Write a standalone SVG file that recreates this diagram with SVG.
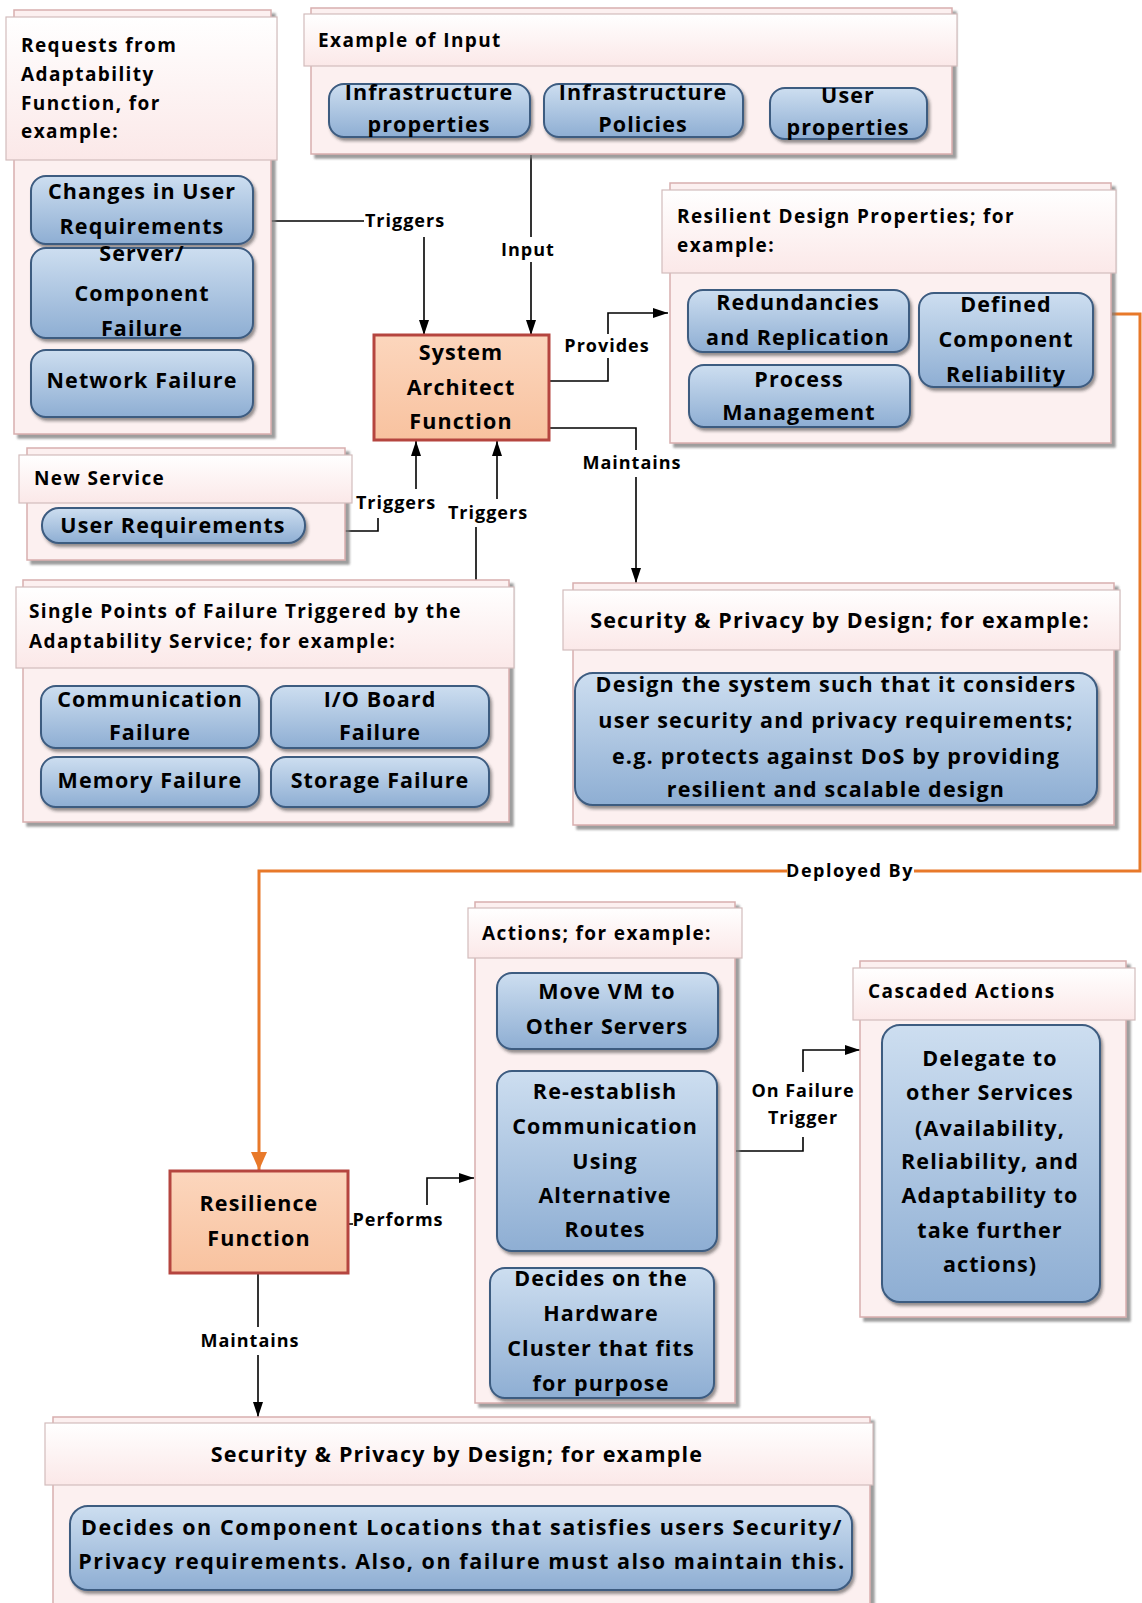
<svg xmlns="http://www.w3.org/2000/svg" width="1142" height="1603" viewBox="0 0 1142 1603">
<defs>
  <linearGradient id="gPill" x1="0" y1="0" x2="0" y2="1">
    <stop offset="0" stop-color="#cddef0"/>
    <stop offset="1" stop-color="#8eaed3"/>
  </linearGradient>
  <linearGradient id="gHead" x1="0" y1="0" x2="0" y2="1">
    <stop offset="0" stop-color="#ffffff"/>
    <stop offset="1" stop-color="#fbe8e8"/>
  </linearGradient>
  <linearGradient id="gFunc" x1="0" y1="0" x2="0" y2="1">
    <stop offset="0" stop-color="#fcd6bd"/>
    <stop offset="1" stop-color="#f8c29f"/>
  </linearGradient>
  <filter id="fPill" x="-10%" y="-10%" width="125%" height="140%">
    <feDropShadow dx="2" dy="3" stdDeviation="1.5" flood-color="#2a2a2a" flood-opacity="0.5"/>
  </filter>
  <filter id="fBox" x="-5%" y="-5%" width="115%" height="115%">
    <feDropShadow dx="4" dy="4" stdDeviation="1.2" flood-color="#7d7d7d" flood-opacity="0.75"/>
  </filter>
  <marker id="arr" viewBox="0 0 15 10" refX="15" refY="5" markerWidth="15" markerHeight="10" markerUnits="userSpaceOnUse" orient="auto">
    <path d="M0,0 L15,5 L0,10 z" fill="#000"/>
  </marker>
  <marker id="arrO" viewBox="0 0 18 16" refX="18" refY="8" markerWidth="18" markerHeight="16" markerUnits="userSpaceOnUse" orient="auto">
    <path d="M0,0 L18,8 L0,16 z" fill="#e8792a"/>
  </marker>
</defs>
<style>
  text { font-family: "Open Sans", "Liberation Sans", sans-serif; font-weight: 700; fill: #000; }
  .hd { font-size: 19px; letter-spacing: 1.4px; }
  .ttl { font-size: 21.5px; text-anchor: middle; letter-spacing: 1.2px; }
  .pt { font-size: 21.5px; text-anchor: middle; letter-spacing: 1.1px; }
  .lb { font-size: 18px; text-anchor: middle; letter-spacing: 1px; }
  .body { fill: #fcf0f0; stroke: #d8aeae; stroke-width: 1.5; filter: url(#fBox); }
  .head { fill: url(#gHead); stroke: #d3bcbc; stroke-width: 1.2; }
  .pill { fill: url(#gPill); stroke: #3c5b80; stroke-width: 2; filter: url(#fPill); }
  .func { fill: url(#gFunc); stroke: #b5453f; stroke-width: 3; }
  .ln { fill: none; stroke: #000; stroke-width: 1.6; }
  .arw { marker-end: url(#arr); }
  .or { fill: none; stroke: #e8792a; stroke-width: 3; }
</style>

<rect width="1142" height="1603" fill="#fff"/>

<!-- connectors -->
<g id="connectors">
  <!-- Triggers from adaptability requests -->
  <line class="ln" x1="271" y1="221" x2="364" y2="221"/>
  <line class="ln arw" x1="424" y1="237" x2="424" y2="335"/>
  <text class="lb" x="405" y="227">Triggers</text>
  <!-- Input -->
  <line class="ln" x1="531" y1="155" x2="531" y2="237"/>
  <line class="ln arw" x1="531" y1="262" x2="531" y2="335"/>
  <text class="lb" x="528" y="256">Input</text>
  <!-- Provides -->
  <path class="ln" d="M549,381 H608 V358"/>
  <path class="ln arw" d="M608,334 V313 H668"/>
  <text class="lb" x="607" y="352">Provides</text>
  <!-- Maintains (design) -->
  <path class="ln" d="M549,428 H636 V450"/>
  <line class="ln arw" x1="636" y1="477" x2="636" y2="583"/>
  <text class="lb" x="632" y="469">Maintains</text>
  <!-- Triggers from new service -->
  <path class="ln" d="M345,531 H378 V518"/>
  <line class="ln arw" x1="416" y1="489" x2="416" y2="441"/>
  <text class="lb" x="396" y="509">Triggers</text>
  <!-- Triggers from single points of failure -->
  <line class="ln" x1="476" y1="581" x2="476" y2="527"/>
  <line class="ln arw" x1="497" y1="499" x2="497" y2="441"/>
  <text class="lb" x="488" y="519">Triggers</text>
  <!-- Deployed By (orange) -->
  <path class="or" d="M1112,314 H1140 V871 H914"/>
  <path class="or" d="M787,871 H259 V1170" marker-end="url(#arrO)"/>
  <text class="lb" x="850" y="877" style="letter-spacing:1.5px">Deployed By</text>
  <!-- Performs -->
  <line class="ln" x1="348" y1="1224" x2="353" y2="1224"/>
  <path class="ln arw" d="M427,1205 V1178 H474"/>
  <text class="lb" x="398" y="1226">Performs</text>
  <!-- On Failure Trigger -->
  <path class="ln" d="M736,1151 H803 V1137"/>
  <path class="ln arw" d="M803,1072 V1050 H860"/>
  <text class="lb" x="803" y="1097">On Failure</text>
  <text class="lb" x="803" y="1124">Trigger</text>
  <!-- Maintains (resilience) -->
  <line class="ln" x1="258" y1="1273" x2="258" y2="1327"/>
  <line class="ln arw" x1="258" y1="1355" x2="258" y2="1417"/>
  <text class="lb" x="250" y="1347">Maintains</text>
</g>

<!-- Requests from Adaptability Function -->
<g id="requests">
  <rect class="body" x="14" y="10" width="257" height="424"/>
  <rect class="head" x="6" y="17" width="271" height="143"/>
  <text class="hd"><tspan x="21" y="52">Requests from</tspan><tspan x="21" y="81">Adaptability</tspan><tspan x="21" y="110">Function, for</tspan><tspan x="21" y="138">example:</tspan></text>
  <rect class="pill" x="31" y="176" width="222" height="68" rx="15"/>
  <text class="pt"><tspan x="142" y="199">Changes in User</tspan><tspan x="142" y="234">Requirements</tspan></text>
  <rect class="pill" x="31" y="248" width="222" height="90" rx="15"/>
  <text class="pt"><tspan x="142" y="261">Server/</tspan><tspan x="142" y="301">Component</tspan><tspan x="142" y="336">Failure</tspan></text>
  <rect class="pill" x="31" y="350" width="222" height="67" rx="15"/>
  <text class="pt" x="142" y="388">Network Failure</text>
</g>

<!-- Example of Input -->
<g id="input">
  <rect class="body" x="311" y="8" width="641" height="146"/>
  <rect class="head" x="304" y="14" width="653" height="52"/>
  <text class="hd" x="318" y="47">Example of Input</text>
  <rect class="pill" x="329" y="84" width="201" height="53" rx="15"/>
  <text class="pt"><tspan x="429" y="100">Infrastructure</tspan><tspan x="429" y="132">properties</tspan></text>
  <rect class="pill" x="544" y="84" width="199" height="53" rx="15"/>
  <text class="pt"><tspan x="643" y="100">Infrastructure</tspan><tspan x="643" y="132">Policies</tspan></text>
  <rect class="pill" x="770" y="88" width="157" height="51" rx="15"/>
  <text class="pt"><tspan x="848" y="103">User</tspan><tspan x="848" y="135">properties</tspan></text>
</g>

<!-- System Architect Function -->
<g id="system-architect">
  <rect class="func" x="374" y="335" width="175" height="105"/>
  <text class="pt"><tspan x="461" y="360">System</tspan><tspan x="461" y="395">Architect</tspan><tspan x="461" y="429">Function</tspan></text>
</g>

<!-- Resilient Design Properties -->
<g id="resilient-design">
  <rect class="body" x="670" y="183" width="441" height="260"/>
  <rect class="head" x="662" y="190" width="454" height="83"/>
  <text class="hd"><tspan x="677" y="223">Resilient Design Properties; for</tspan><tspan x="677" y="252">example:</tspan></text>
  <rect class="pill" x="688" y="290" width="221" height="62" rx="15"/>
  <text class="pt"><tspan x="798" y="310">Redundancies</tspan><tspan x="798" y="345">and Replication</tspan></text>
  <rect class="pill" x="689" y="365" width="221" height="62" rx="15"/>
  <text class="pt"><tspan x="799" y="387">Process</tspan><tspan x="799" y="420">Management</tspan></text>
  <rect class="pill" x="919" y="293" width="174" height="94" rx="15"/>
  <text class="pt"><tspan x="1006" y="312">Defined</tspan><tspan x="1006" y="347">Component</tspan><tspan x="1006" y="382">Reliability</tspan></text>
</g>

<!-- New Service -->
<g id="new-service">
  <rect class="body" x="27" y="448" width="318" height="112"/>
  <rect class="head" x="19" y="455" width="333" height="48"/>
  <text class="hd" x="34" y="485">New Service</text>
  <rect class="pill" x="42" y="508" width="263" height="35" rx="17"/>
  <text class="pt" x="173" y="533">User Requirements</text>
</g>

<!-- Single Points of Failure -->
<g id="single-points">
  <rect class="body" x="23" y="580" width="486" height="242"/>
  <rect class="head" x="16" y="587" width="498" height="81"/>
  <text class="hd"><tspan x="29" y="618">Single Points of Failure Triggered by the</tspan><tspan x="29" y="648">Adaptability Service; for example:</tspan></text>
  <rect class="pill" x="41" y="686" width="218" height="62" rx="15"/>
  <text class="pt"><tspan x="150" y="707">Communication</tspan><tspan x="150" y="740">Failure</tspan></text>
  <rect class="pill" x="271" y="686" width="218" height="62" rx="15"/>
  <text class="pt"><tspan x="380" y="707">I/O Board</tspan><tspan x="380" y="740">Failure</tspan></text>
  <rect class="pill" x="41" y="757" width="218" height="50" rx="15"/>
  <text class="pt" x="150" y="788">Memory Failure</text>
  <rect class="pill" x="271" y="757" width="218" height="50" rx="15"/>
  <text class="pt" x="380" y="788">Storage Failure</text>
</g>

<!-- Security & Privacy by Design (system architect) -->
<g id="security-design">
  <rect class="body" x="573" y="583" width="541" height="242"/>
  <rect class="head" x="563" y="590" width="557" height="60"/>
  <text class="ttl" x="840" y="628">Security &amp; Privacy by Design; for example:</text>
  <rect class="pill" x="575" y="673" width="522" height="132" rx="18"/>
  <text class="pt" style="letter-spacing:1.2px"><tspan x="836" y="692">Design the system such that it considers</tspan><tspan x="836" y="728">user security and privacy requirements;</tspan><tspan x="836" y="764">e.g. protects against DoS by providing</tspan><tspan x="836" y="797">resilient and scalable design</tspan></text>
</g>

<!-- Resilience Function -->
<g id="resilience">
  <rect class="func" x="170" y="1171" width="178" height="102"/>
  <text class="pt"><tspan x="259" y="1211">Resilience</tspan><tspan x="259" y="1246">Function</tspan></text>
</g>

<!-- Actions -->
<g id="actions">
  <rect class="body" x="475" y="902" width="260" height="501"/>
  <rect class="head" x="468" y="908" width="274" height="50"/>
  <text class="hd" x="482" y="940">Actions; for example:</text>
  <rect class="pill" x="497" y="973" width="221" height="76" rx="15"/>
  <text class="pt"><tspan x="607" y="999">Move VM to</tspan><tspan x="607" y="1034">Other Servers</tspan></text>
  <rect class="pill" x="497" y="1071" width="220" height="180" rx="15"/>
  <text class="pt"><tspan x="605" y="1099">Re-establish</tspan><tspan x="605" y="1134">Communication</tspan><tspan x="605" y="1169">Using</tspan><tspan x="605" y="1203">Alternative</tspan><tspan x="605" y="1237">Routes</tspan></text>
  <rect class="pill" x="490" y="1268" width="224" height="130" rx="15"/>
  <text class="pt"><tspan x="601" y="1286">Decides on the</tspan><tspan x="601" y="1321">Hardware</tspan><tspan x="601" y="1356">Cluster that fits</tspan><tspan x="601" y="1391">for purpose</tspan></text>
</g>

<!-- Cascaded Actions -->
<g id="cascaded">
  <rect class="body" x="860" y="961" width="266" height="356"/>
  <rect class="head" x="853" y="968" width="282" height="52"/>
  <text class="hd" x="868" y="998">Cascaded Actions</text>
  <rect class="pill" x="882" y="1025" width="218" height="277" rx="18"/>
  <text class="pt"><tspan x="990" y="1066">Delegate to</tspan><tspan x="990" y="1100">other Services</tspan><tspan x="990" y="1136">(Availability,</tspan><tspan x="990" y="1169">Reliability, and</tspan><tspan x="990" y="1203">Adaptability to</tspan><tspan x="990" y="1238">take further</tspan><tspan x="990" y="1272">actions)</tspan></text>
</g>

<!-- Security & Privacy by Design (resilience) -->
<g id="security-resilience">
  <rect class="body" x="53" y="1417" width="817" height="195"/>
  <rect class="head" x="45" y="1423" width="828" height="62"/>
  <text class="ttl" x="457" y="1462">Security &amp; Privacy by Design; for example</text>
  <rect class="pill" x="70" y="1506" width="782" height="84" rx="18"/>
  <text class="pt" style="letter-spacing:1.55px"><tspan x="462" y="1535">Decides on Component Locations that satisfies users Security/</tspan><tspan x="462" y="1569">Privacy requirements. Also, on failure must also maintain this.</tspan></text>
</g>
</svg>
